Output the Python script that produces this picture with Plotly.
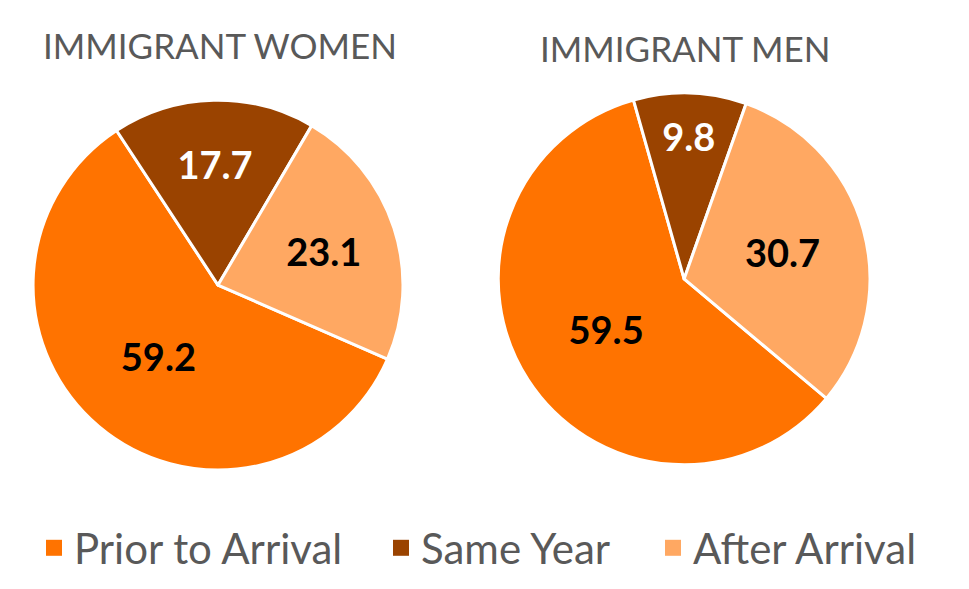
import plotly.graph_objects as go

categories = ["Prior to Arrival", "Same Year", "After Arrival"]
women_values = [59.2, 17.7, 23.1]
men_values = [59.5, 9.8, 30.7]
titles = ["IMMIGRANT WOMEN", "IMMIGRANT MEN"]
colors = ["#FF7300", "#9A4300", "#FFA862"]
label_colors = ["#000000", "#FFFFFF", "#000000"]

FONT = "Lato"
GRAY = "#595959"

fig = go.Figure()

for vals, rot, dom in [
    (women_values, 113.6, dict(x=[0.034, 0.416], y=[0.202, 0.830])),
    (men_values, 130, dict(x=[0.514, 0.898], y=[0.211, 0.842])),
]:
    fig.add_trace(go.Pie(
        labels=categories, values=vals, sort=False, direction="clockwise",
        rotation=rot,
        marker=dict(colors=colors, line=dict(color="white", width=3)),
        texttemplate="%{value:.1f}", textposition="inside", insidetextorientation="horizontal",
        textfont=dict(family=FONT, size=38, color=label_colors, weight="bold"),
        domain=dom, showlegend=False, hoverinfo="label+value",
    ))

# legend entries (one legend per entry to reproduce the wide spacing)
legend_ids = ["legend", "legend2", "legend3"]
square_centers = [51, 398, 670]
for cat, col, lid in zip(categories, colors, legend_ids):
    fig.add_trace(go.Scatter(
        x=[None], y=[None], mode="markers", name=cat,
        marker=dict(symbol="square", size=20, color=col),
        showlegend=True, legend=lid,
    ))

legend_common = dict(orientation="h", yanchor="middle", y=1 - 548 / 589, xanchor="left",
                     font=dict(family=FONT, size=42, color=GRAY),
                     bgcolor="rgba(0,0,0,0)")
legend_layout = {}
for lid, cx in zip(legend_ids, square_centers):
    legend_layout[lid] = dict(legend_common, x=(cx - 17) / 969)

fig.add_annotation(text=titles[0], x=220 / 969, y=1 - 45 / 589, xref="paper", yref="paper",
                   xanchor="center", yanchor="middle",
                   showarrow=False, font=dict(family=FONT, size=35, color=GRAY))
fig.add_annotation(text=titles[1], x=685 / 969, y=1 - 48 / 589, xref="paper", yref="paper",
                   xanchor="center", yanchor="middle",
                   showarrow=False, font=dict(family=FONT, size=35, color=GRAY))

fig.update_layout(
    width=969, height=589,
    margin=dict(l=0, r=0, t=0, b=0),
    paper_bgcolor="white", plot_bgcolor="white",
    xaxis=dict(visible=False), yaxis=dict(visible=False),
    **legend_layout,
)

fig.write_html("out.html", config={"displayModeBar": False},
               post_script="document.body.style.margin='0';")
